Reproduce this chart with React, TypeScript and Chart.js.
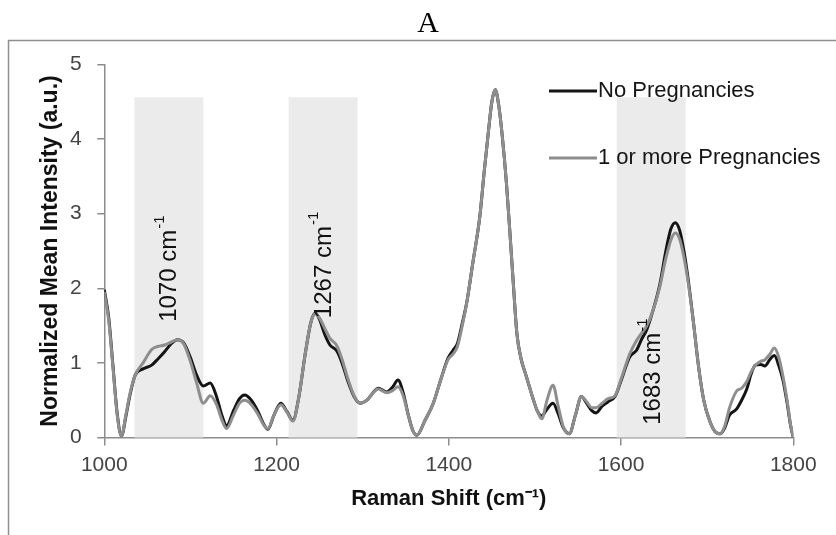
import React, { useEffect, useRef } from "react";
import { Chart, registerables } from "chart.js";

Chart.register(...registerables);

// Raman shift positions (cm-1)
const ramanShift = [
  1000, 1005, 1010, 1015, 1020, 1025, 1030, 1036, 1045, 1055,
  1062, 1070, 1078, 1085, 1092, 1100, 1107, 1115, 1123, 1130,
  1137, 1142, 1150, 1157, 1163, 1170, 1178, 1185, 1190, 1197,
  1205, 1212, 1219, 1226, 1233, 1240, 1245, 1250, 1256, 1262,
  1270, 1276, 1283, 1290, 1297, 1305, 1312, 1318, 1328, 1335,
  1341, 1347, 1353, 1358, 1363, 1372, 1382, 1390, 1399, 1405,
  1410, 1416, 1421, 1428, 1436, 1441, 1446, 1450, 1454, 1458,
  1462, 1467, 1471, 1475, 1479, 1484, 1490, 1497, 1503, 1508,
  1514, 1521, 1527, 1533, 1540, 1547, 1554, 1560, 1566, 1571,
  1578, 1585, 1593, 1600, 1610, 1618, 1624, 1630, 1637, 1645,
  1652, 1658, 1663, 1668, 1673, 1677, 1684, 1690, 1696, 1703,
  1709, 1715, 1720, 1726, 1734, 1740, 1746, 1751, 1756, 1762,
  1767, 1773, 1778, 1783, 1788, 1793, 1797, 1800,
];

const noPregnancies = [
  1.98, 1.62, 0.97, 0.32, 0.02, 0.28, 0.58, 0.84, 0.92, 0.97,
  1.05, 1.15, 1.26, 1.31, 1.27, 1.07, 0.84, 0.69, 0.73, 0.56,
  0.28, 0.16, 0.36, 0.52, 0.57, 0.51, 0.36, 0.18, 0.11, 0.30,
  0.46, 0.35, 0.23, 0.55, 1.10, 1.55, 1.67, 1.58, 1.38, 1.24,
  1.16, 1.00, 0.75, 0.55, 0.46, 0.50, 0.60, 0.66, 0.61, 0.68,
  0.77, 0.60, 0.30, 0.10, 0.03, 0.22, 0.46, 0.75, 1.06, 1.17,
  1.26, 1.55, 1.82, 2.35, 2.96, 3.55, 4.10, 4.50, 4.66, 4.45,
  4.05, 3.40, 2.74, 2.05, 1.40, 1.05, 0.82, 0.55, 0.35, 0.29,
  0.38, 0.46, 0.32, 0.13, 0.05, 0.30, 0.55, 0.46, 0.36, 0.33,
  0.42, 0.48, 0.55, 0.76, 1.08, 1.17, 1.32, 1.45, 1.70, 2.05,
  2.50, 2.80, 2.88, 2.78, 2.50, 2.20, 1.55, 0.95, 0.50, 0.22,
  0.08, 0.05, 0.12, 0.30, 0.38, 0.50, 0.65, 0.85, 0.97, 0.98,
  0.96, 1.05, 1.10, 0.97, 0.77, 0.45, 0.15, 0.00,
];

const onePlusPregnancies = [
  1.95, 1.58, 0.95, 0.30, 0.02, 0.30, 0.60, 0.84, 1.00, 1.18,
  1.22, 1.24, 1.28, 1.31, 1.26, 1.02, 0.74, 0.46, 0.56, 0.45,
  0.22, 0.12, 0.30, 0.46, 0.50, 0.45, 0.32, 0.17, 0.12, 0.30,
  0.44, 0.34, 0.22, 0.55, 1.10, 1.55, 1.66, 1.60, 1.46, 1.33,
  1.23, 1.05, 0.78, 0.56, 0.46, 0.50, 0.60, 0.65, 0.60, 0.63,
  0.68, 0.56, 0.30, 0.10, 0.03, 0.22, 0.46, 0.75, 1.04, 1.12,
  1.22, 1.52, 1.82, 2.35, 2.96, 3.55, 4.10, 4.50, 4.66, 4.45,
  4.05, 3.40, 2.74, 2.05, 1.40, 1.05, 0.82, 0.55, 0.35, 0.25,
  0.50, 0.70, 0.42, 0.14, 0.05, 0.30, 0.55, 0.48, 0.40, 0.40,
  0.46, 0.52, 0.56, 0.78, 1.12, 1.30, 1.40, 1.50, 1.70, 2.02,
  2.40, 2.65, 2.74, 2.66, 2.42, 2.15, 1.55, 0.95, 0.50, 0.22,
  0.08, 0.05, 0.14, 0.40, 0.62, 0.66, 0.75, 0.88, 0.97, 1.02,
  1.04, 1.12, 1.20, 1.08, 0.82, 0.48, 0.16, 0.00,
];

const xTicks = [1000, 1200, 1400, 1600, 1800];
const yTicks = [0, 1, 2, 3, 4, 5];

const seriesNames = ["No Pregnancies", "1 or more Pregnancies"];
const seriesColors = ["#141414", "#8e8e8e"];

// Highlighted bands
const bandStart = [1035, 1214, 1595];
const bandEnd = [1115, 1294, 1675];
const bandTop = 4.56;
const bandLabelText = ["1070 cm", "1267 cm", "1683 cm"];
const bandLabelSup = ["-1", "-1", "-1"];
const bandLabelX = [1076, 1255, 1637];
const bandLabelY = [1.55, 1.6, 0.17];

const SANS = '"Liberation Sans", Arial, sans-serif';

const decorPlugin = {
  id: "decor",
  beforeDraw(chart: any) {
    const ctx = chart.ctx;
    ctx.save();
    ctx.fillStyle = "#ffffff";
    ctx.fillRect(0, 0, chart.width, chart.height);
    // frame
    ctx.strokeStyle = "#8f8f8f";
    ctx.lineWidth = 1.5;
    ctx.beginPath();
    ctx.moveTo(8.5, chart.height);
    ctx.lineTo(8.5, 40.5);
    ctx.lineTo(chart.width, 40.5);
    ctx.stroke();
    // panel letter
    ctx.fillStyle = "#000";
    ctx.font = '30px "Liberation Serif", "Times New Roman", serif';
    ctx.textAlign = "center";
    ctx.textBaseline = "alphabetic";
    ctx.fillText("A", 428, 32);
    ctx.restore();
  },
  beforeDatasetsDraw(chart: any) {
    const ctx = chart.ctx;
    const xs = chart.scales.x;
    const ys = chart.scales.y;
    ctx.save();
    ctx.fillStyle = "#ebebeb";
    for (let i = 0; i < bandStart.length; i++) {
      const x0 = xs.getPixelForValue(bandStart[i]);
      const x1 = xs.getPixelForValue(bandEnd[i]);
      const y0 = ys.getPixelForValue(bandTop);
      const y1 = ys.getPixelForValue(0);
      ctx.fillRect(x0, y0, x1 - x0, y1 - y0);
    }
    ctx.restore();
  },
  afterDatasetsDraw(chart: any) {
    const ctx = chart.ctx;
    const xs = chart.scales.x;
    const ys = chart.scales.y;
    ctx.save();
    ctx.fillStyle = "#111";
    for (let i = 0; i < bandLabelText.length; i++) {
      const px = xs.getPixelForValue(bandLabelX[i]);
      const py = ys.getPixelForValue(bandLabelY[i]);
      ctx.save();
      ctx.translate(px, py);
      ctx.rotate(-Math.PI / 2);
      ctx.font = `24px ${SANS}`;
      ctx.textAlign = "left";
      ctx.textBaseline = "middle";
      ctx.fillText(bandLabelText[i], 0, 0);
      const w = ctx.measureText(bandLabelText[i]).width;
      ctx.font = `15px ${SANS}`;
      ctx.fillText(bandLabelSup[i], w + 1, -10);
      ctx.restore();
    }
    // legend
    const legendY = [91, 158];
    for (let i = 0; i < seriesNames.length; i++) {
      ctx.strokeStyle = seriesColors[i];
      ctx.lineWidth = 3;
      ctx.beginPath();
      ctx.moveTo(549, legendY[i]);
      ctx.lineTo(597, legendY[i]);
      ctx.stroke();
      ctx.fillStyle = "#151515";
      ctx.font = `22px ${SANS}`;
      ctx.textAlign = "left";
      ctx.textBaseline = "middle";
      ctx.fillText(seriesNames[i], 598, legendY[i]);
    }
    ctx.restore();
  },
};

export default function App() {
  const canvasRef = useRef<HTMLCanvasElement | null>(null);

  useEffect(() => {
    const canvas = canvasRef.current;
    if (!canvas) return;
    const chart = new Chart(canvas, {
      type: "line",
      data: {
        datasets: [
          {
            label: seriesNames[0],
            data: ramanShift.map((x, i) => ({ x, y: noPregnancies[i] })),
            borderColor: seriesColors[0],
            borderWidth: 3,
            pointRadius: 0,
            fill: false,
            cubicInterpolationMode: "monotone",
            order: 1,
          },
          {
            label: seriesNames[1],
            data: ramanShift.map((x, i) => ({ x, y: onePlusPregnancies[i] })),
            borderColor: seriesColors[1],
            borderWidth: 3,
            pointRadius: 0,
            fill: false,
            cubicInterpolationMode: "monotone",
            order: 0,
          },
        ],
      },
      options: {
        responsive: false,
        animation: false,
        layout: { padding: { top: 64.5, right: 42.7, left: 0, bottom: 0 } },
        plugins: {
          legend: { display: false },
          tooltip: { enabled: false },
        },
        scales: {
          x: {
            type: "linear",
            min: 1000,
            max: 1800,
            afterBuildTicks: (s: any) => {
              s.ticks = xTicks.map((v) => ({ value: v }));
            },
            afterFit: (s: any) => {
              s.height = 97.5;
            },
            ticks: {
              font: { family: SANS, size: 21 },
              color: "#444",
              padding: 7,
              maxRotation: 0,
              callback: (v: any) => String(v),
            },
            grid: {
              display: true,
              drawOnChartArea: false,
              drawTicks: true,
              tickLength: 8,
              color: "#8c8c8c",
              lineWidth: 1.5,
            },
            border: { display: true, color: "#8c8c8c", width: 1.5 },
            title: {
              display: true,
              text: "Raman Shift (cm\u207B\u00B9)",
              font: { family: SANS, size: 22, weight: "bold" },
              color: "#111",
              padding: { top: 0, bottom: 22.8 },
            },
          },
          y: {
            type: "linear",
            min: 0,
            max: 5,
            afterBuildTicks: (s: any) => {
              s.ticks = yTicks.map((v) => ({ value: v }));
            },
            afterFit: (s: any) => {
              s.width = 104.3;
            },
            ticks: {
              font: { family: SANS, size: 21 },
              color: "#444",
              padding: 15.6,
              callback: (v: any) => String(v),
            },
            grid: {
              display: true,
              drawOnChartArea: false,
              drawTicks: true,
              tickLength: 7,
              color: "#8c8c8c",
              lineWidth: 1.5,
            },
            border: { display: true, color: "#8c8c8c", width: 1.5 },
            title: {
              display: true,
              text: "Normalized Mean Intensity (a.u.)",
              font: { family: SANS, size: 23, weight: "bold" },
              color: "#111",
              padding: { top: 37, bottom: 0 },
            },
          },
        },
      },
      plugins: [decorPlugin],
    });
    return () => chart.destroy();
  }, []);

  return (
    <div style={{ position: "fixed", left: 0, top: 0, width: 836, height: 535, background: "#fff" }}>
      <canvas ref={canvasRef} width={836} height={535} style={{ display: "block" }} />
    </div>
  );
}
